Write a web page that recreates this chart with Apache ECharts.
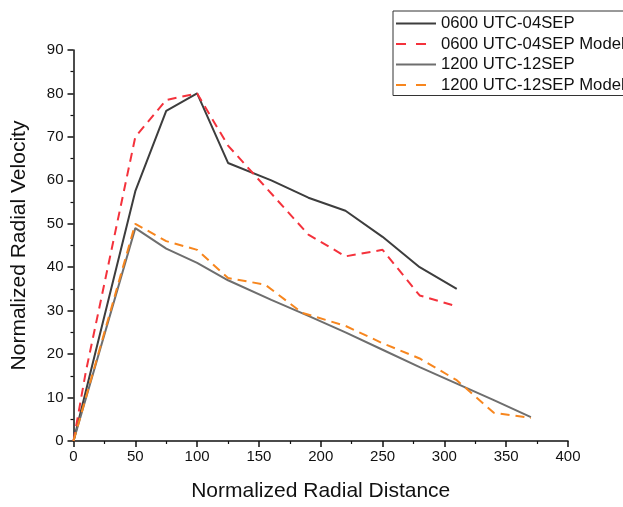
<!DOCTYPE html>
<html>
<head>
<meta charset="utf-8">
<script src="https://cdn.jsdelivr.net/npm/echarts@6/dist/echarts.min.js"></script>
<style>
html,body{margin:0;padding:0;background:#fff;}
#c{width:623px;height:507px;}
</style>
</head>
<body>
<div id="c"></div>
<script>
var seriesNames = ['0600 UTC-04SEP', '0600 UTC-04SEP Model', '1200 UTC-12SEP', '1200 UTC-12SEP Model'];
var obs0600 = [[0,0],[50,57.5],[75,76],[100,80],[125,64],[160,60],[190,56],[220,53],[250,47],[280,40],[310,35]];
var model0600 = [[0,0],[10,16],[50,70],[75,78.5],[100,80],[125,68],[190,47.5],[220,42.5],[250,44],[280,33.5],[310,31]];
var obs1200 = [[0,0],[50,49],[75,44.3],[100,41],[125,37],[160,32.5],[190,28.8],[220,25],[250,21],[280,17],[310,13.2],[340,9.4],[370,5.5]];
var model1200 = [[0,0],[50,50],[75,46],[100,44],[125,37.5],[155,36],[185,29.5],[220,26.5],[250,22.5],[280,19],[310,14],[340,6.5],[370,5.3]];
var xTicks = {min:0, max:400, interval:50};
var yTicks = {min:0, max:90, interval:10};

var font = 'Liberation Sans, Arial, sans-serif';
var colors = ['#3d3d3d', '#f4323c', '#6e6e6e', '#f7861e'];
var dashed = [false, true, false, true];
var chart = echarts.init(document.getElementById('c'), null, {renderer:'canvas'});
var seriesData = [obs0600, model0600, obs1200, model1200];
var series = seriesNames.map(function(n, i){
  return {
    name:n, type:'line', data:seriesData[i], symbol:'none', smooth:false,
    lineStyle:{color:colors[i], width:2, type: dashed[i] ? [9,6] : 'solid'},
    itemStyle:{color:colors[i]}
  };
});
var legendData = seriesNames.map(function(n, i){
  return {name:n, itemStyle:{opacity:0},
    lineStyle:{color:colors[i], width:2, type: dashed[i] ? [10,10] : 'solid'}};
});
chart.setOption({
  animation:false,
  backgroundColor:'#ffffff',
  grid:{left:73.5, right:55, top:50, bottom:63.5},
  legend:{
    orient:'vertical', left:393, top:11,
    itemWidth:40, itemHeight:12, itemGap:3.5,
    padding:[4,20,2,2],
    borderColor:'#333', borderWidth:1,
    textStyle:{fontFamily:font, fontSize:16.7, color:'#111'},
    itemStyle:{opacity:0},
    data:legendData
  },
  xAxis:{
    type:'value', min:xTicks.min, max:xTicks.max, interval:xTicks.interval,
    name:'Normalized Radial Distance', nameLocation:'middle', nameGap:40,
    nameTextStyle:{fontFamily:font, fontSize:21, color:'#111'},
    axisLine:{show:true, lineStyle:{color:'#111', width:1.5}},
    axisTick:{show:true, length:6, lineStyle:{color:'#111', width:1.5}},
    minorTick:{show:true, splitNumber:2, length:3, lineStyle:{color:'#111', width:1.2}},
    splitLine:{show:false},
    axisLabel:{fontFamily:font, fontSize:15, color:'#111', margin:8}
  },
  yAxis:{
    type:'value', min:yTicks.min, max:yTicks.max, interval:yTicks.interval,
    name:'Normalized Radial Velocity', nameLocation:'middle', nameGap:44, nameRotate:90,
    nameTextStyle:{fontFamily:font, fontSize:21, color:'#111'},
    axisLine:{show:true, lineStyle:{color:'#111', width:1.5}},
    axisTick:{show:true, length:6, lineStyle:{color:'#111', width:1.5}},
    minorTick:{show:true, splitNumber:2, length:3, lineStyle:{color:'#111', width:1.2}},
    splitLine:{show:false},
    axisLabel:{fontFamily:font, fontSize:15, color:'#111', margin:10}
  },
  series:series
});
</script>
</body>
</html>
